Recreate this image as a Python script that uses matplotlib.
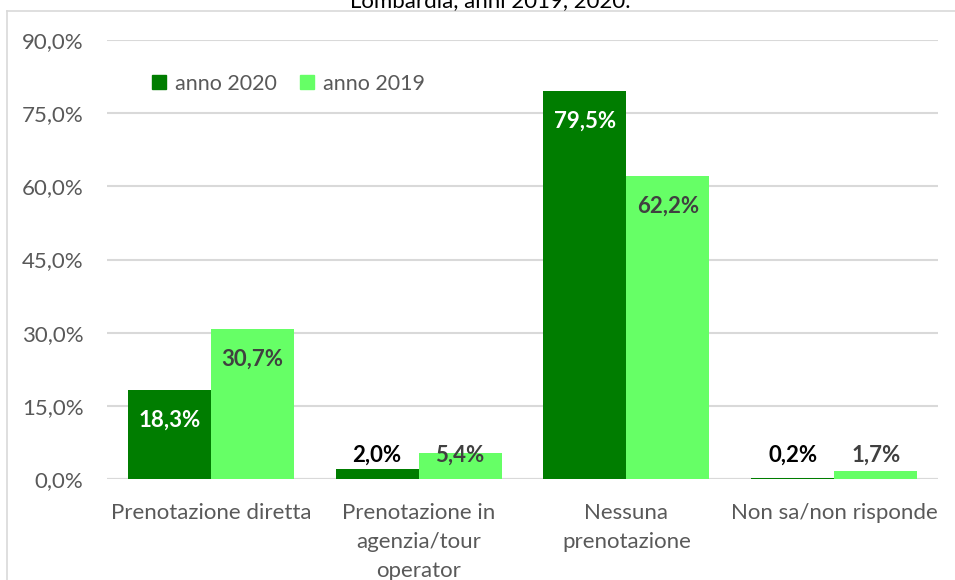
import matplotlib
matplotlib.use("Agg")
import matplotlib.pyplot as plt
import numpy as np
from matplotlib.lines import Line2D

categories = ["Prenotazione diretta", "Prenotazione in\nagenzia/tour\noperator",
              "Nessuna\nprenotazione", "Non sa/non risponde"]
anno_2020 = [18.3, 2.0, 79.5, 0.2]
anno_2019 = [30.7, 5.4, 62.2, 1.7]
series_names = ["anno 2020", "anno 2019"]
yticks = [0, 15, 30, 45, 60, 75, 90]
title = "Lombardia, anni 2019, 2020."

plt.rcParams['font.family'] = ['Lato', 'DejaVu Sans']

fs = 16
fig = plt.figure(figsize=(9.55, 5.8), dpi=100)
ax = fig.add_axes([107/955, 1-479/580, (938-107)/955, (479-40)/580])

dark = "#007D00"
light = "#66FF66"
x = np.arange(len(categories))
w = 0.4
b1 = ax.bar(x - w/2, anno_2020, w, color=dark, label=series_names[0], zorder=3)
b2 = ax.bar(x + w/2, anno_2019, w, color=light, label=series_names[1], zorder=3)

ax.set_xlim(-0.5, 3.5)
ax.set_ylim(0, 90)
ax.set_yticks(yticks)
ax.set_yticklabels([f"{v:.1f}%".replace(".", ",") for v in yticks])
ax.set_xticks(x)
ax.set_xticklabels(categories, linespacing=1.58)
ax.tick_params(axis='both', length=0, labelsize=fs, colors="#595959")
ax.tick_params(axis='y', pad=17)
ax.tick_params(axis='x', pad=17)
ax.grid(axis='y', color="#d9d9d9", linewidth=1.5, zorder=0)
for s in ax.spines.values():
    s.set_visible(False)
ax.axhline(0, color="#d9d9d9", linewidth=1.5, zorder=2)

offset = 6.2
minpos = 4.9
def label(bars, vals, big_color, small_color):
    for bar, v in zip(bars, vals):
        ypos = max(v - offset, minpos)
        col = big_color if v - offset > minpos else small_color
        ax.text(bar.get_x() + bar.get_width()/2, ypos, f"{v:.1f}%".replace(".", ","),
                ha='center', va='center', fontsize=fs, fontweight='bold', color=col, zorder=4)
label(b1, anno_2020, "white", "#000000")
label(b2, anno_2019, "#404040", "#404040")

handles = [Line2D([], [], marker='s', linestyle='none', markersize=10.5, color=c) for c in (dark, light)]
ax.legend(handles, series_names, loc='center left', bbox_to_anchor=(0.026, (90-((84-40)/(439/90)))/90),
          ncol=2, frameon=False, fontsize=15.5, handletextpad=0.25, columnspacing=0.9,
          labelcolor="#595959", handlelength=1.0)

# outer frame (partially visible)
fig.add_artist(Line2D([7/955, 7/955], [0, 1-11/580], color="#d9d9d9", linewidth=1.2, transform=fig.transFigure))
fig.add_artist(Line2D([7/955, 1], [1-11/580, 1-11/580], color="#d9d9d9", linewidth=1.2, transform=fig.transFigure))
fig.text(490/955, 1-7/580, title, ha='center', va='baseline', fontsize=16, color="#000000")

fig.savefig("out.png", dpi=100)
